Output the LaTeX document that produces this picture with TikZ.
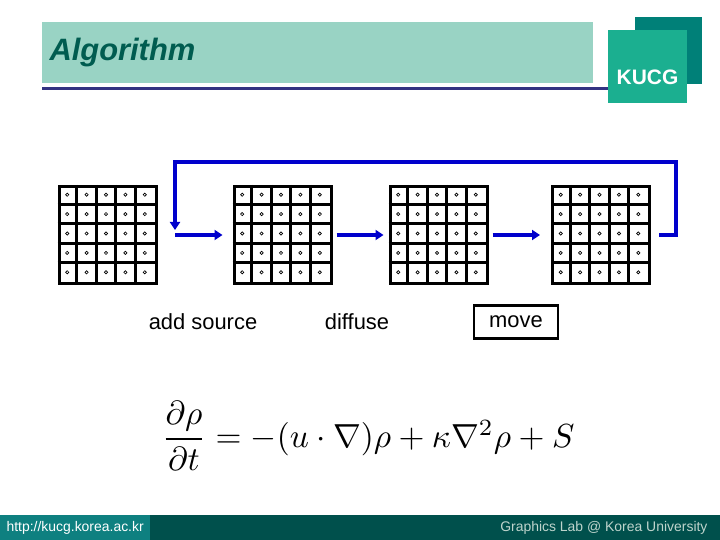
\documentclass[tikz,border=0pt]{standalone}
\usepackage{amsmath, amsfonts, amssymb}
\usepackage{fontspec}
\setmainfont{Liberation Sans}
\usepackage{xcolor}
\usepackage{tikz}
\usetikzlibrary{arrows.meta}

\definecolor{barteal}{RGB}{153,211,196}
\definecolor{titleteal}{RGB}{0,92,80}
\definecolor{rulenavy}{RGB}{51,51,130}
\definecolor{logoback}{RGB}{0,128,120}
\definecolor{logofront}{RGB}{27,175,144}
\definecolor{footleft}{RGB}{14,128,128}
\definecolor{footright}{RGB}{0,80,76}
\definecolor{foottext}{RGB}{190,212,204}
\definecolor{flowblue}{RGB}{0,0,204}

\tikzset{
  gridbox/.style={draw=black, line width=3bp, fill=white, minimum size=97bp, inner sep=0pt},
  gridline/.style={line width=3bp},
  celldot/.style={line width=0.7bp},
  flow/.style={draw=flowblue, line width=4bp, -{Triangle[length=8bp,width=10bp]}},
  steplabel/.style={font=\fontsize{22}{26}\selectfont},
}

\begin{document}
\begin{tikzpicture}[x=1bp,y=-1bp]
\useasboundingbox (0,0) rectangle (720,540);

% header
\fill[barteal] (42,22) rectangle (593,83);
\node[anchor=west, text=titleteal, font=\fontsize{31}{36}\selectfont\bfseries\itshape] (title) at (46,53) {Algorithm};
\draw[rulenavy, line width=3bp] (42,89)--(612,89);
\fill[logoback] (635,17) rectangle (702,84);
\fill[logofront] (608,30) rectangle (687,103);
\node[text=white, font=\fontsize{21}{24}\selectfont\bfseries] (logo) at (647.5,77) {KUCG};

% grids
\foreach \n/\cx in {g1/107.5,g2/282.5,g3/438.5,g4/601}{
	\node[gridbox] (\n) at (\cx,235) {};
	\foreach \k in {1,...,4}{
		\draw[gridline] ([xshift=\k*19.4bp]\n.north west)--([xshift=\k*19.4bp]\n.south west);
		\draw[gridline] ([yshift=-\k*19.4bp]\n.north west)--([yshift=-\k*19.4bp]\n.north east);
	}
	\foreach \i in {1,...,5}{
		\foreach \j in {1,...,5}{
			\draw[celldot] ([xshift=\i*19.4bp-9.7bp, yshift=-\j*19.4bp+9.7bp]\n.north west) circle (1.6);
		}
	}
}

% connectors
\coordinate (loopL) at (175,162);
\coordinate (loopR) at (676,162);
\draw[flow] ([xshift=8bp]g4.east) -| (loopR) -- (loopL) -- ([yshift=5bp]loopL |- g1.east);
\draw[flow] (loopL |- g1.east) -- ([xshift=-10bp]g2.west);
\draw[flow] ([xshift=4bp]g2.east) -- ([xshift=-5bp]g3.west);
\draw[flow] ([xshift=4bp]g3.east) -- ([xshift=-11bp]g4.west);

% labels
\node[steplabel] (addsrc) at (203,322) {add source};
\node[steplabel] (diff) at (357,322) {diffuse};
\node[steplabel, draw=black, line width=2.5bp, minimum width=84bp, minimum height=33bp, inner sep=0pt] (mv) at (516,322) {move};

% equation
\node[scale=3.35] (eqn) at (368,436) {$\dfrac{\partial\rho}{\partial t}=-(u\cdot\nabla)\rho+\kappa\nabla^2\rho+S$};

% footer
\fill[footright] (0,515) rectangle (720,540);
\fill[footleft] (0,515) rectangle (150,540);
\node[anchor=west, text=white, font=\fontsize{14}{16}\selectfont] (url) at (3,527.5) {http://kucg.korea.ac.kr};
\node[anchor=east, text=foottext, font=\fontsize{14}{16}\selectfont] (lab) at (711,527.5) {Graphics Lab @ Korea University};
\end{tikzpicture}
\end{document}
